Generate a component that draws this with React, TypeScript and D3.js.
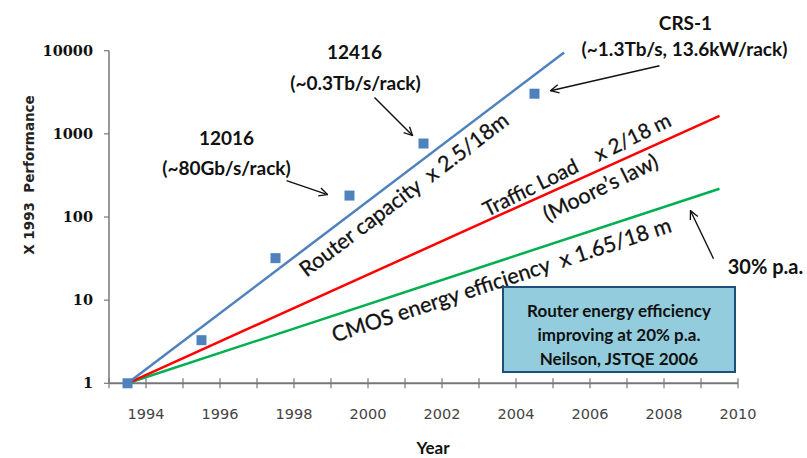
import * as d3 from "d3";

// measured points (relative to 1993) and the three trend lines
const pointYears = [1993.5, 1995.5, 1997.5, 1999.5, 2001.5, 2004.5];
const routerPoints = [1, 3.3, 32, 181, 765, 3040];

const routerTrend: [number, number][] = [[1993.5, 1], [2005.3, 9500]];
const trafficTrend: [number, number][] = [[1993.5, 1], [2009.5, 1650]];
const cmosTrend: [number, number][] = [[1993.5, 1], [2009.5, 219]];

const yTicks = [1, 10, 100, 1000, 10000];
const xTicks = d3.range(1993, 2011);
const xLabels = d3.range(1994, 2011, 2);

const W = 807,
  H = 458;

const FONT = "Lato, 'Open Sans', sans-serif";

export default function App() {
  const x = d3.scaleLinear().domain([1993, 2010]).range([109, 738]);
  const y = d3.scaleLog().domain([1, 10000]).range([383.3, 50.7]);

  const line = d3
    .line<[number, number]>()
    .x((d) => x(d[0]))
    .y((d) => y(d[1]));

  // place a label along a trend line: yr = year on the line, off = perpendicular px
  const along = (trend: [number, number][], yr: number, off: number, extra = 0) => {
    const [a, b] = trend;
    const x1 = x(a[0]), y1 = y(a[1]), x2 = x(b[0]), y2 = y(b[1]);
    const ang = Math.atan2(y2 - y1, x2 - x1);
    const f = (yr - a[0]) / (b[0] - a[0]);
    const px = x1 + f * (x2 - x1) - Math.sin(ang) * off;
    const py = y1 + f * (y2 - y1) + Math.cos(ang) * off;
    return `translate(${px},${py}) rotate(${(ang * 180) / Math.PI + extra})`;
  };

  const pt = (i: number) => [x(pointYears[i]), y(routerPoints[i])];
  const [p1x, p1y] = pt(3);
  const [p2x, p2y] = pt(4);
  const [p3x, p3y] = pt(5);
  const gx = x(cmosTrend[1][0]),
    gy = y(cmosTrend[1][1]);

  const arrow = (x1: number, y1: number, x2: number, y2: number) => (
    <line x1={x1} y1={y1} x2={x2} y2={y2} stroke="#111" strokeWidth={1.4} markerEnd="url(#open)" />
  );

  const bold = { fontFamily: FONT, fontWeight: 700, fontSize: 19, fill: "#111" } as const;
  const slant = { fontFamily: FONT, fontSize: 21.5, fill: "#111", stroke: "#111", strokeWidth: 0.3, style: { whiteSpace: "pre" as const } };

  return (
    <svg width={W} height={H} style={{ position: "absolute", left: 0, top: 0, background: "#fff" }}>
      <defs>
        <marker id="open" viewBox="0 0 12 12" refX={11} refY={6} markerWidth={10} markerHeight={10} markerUnits="userSpaceOnUse" orient="auto">
          <path d="M1,1 L11,6 L1,11" fill="none" stroke="#111" strokeWidth={1.6} />
        </marker>
      </defs>

      {/* axes */}
      <line x1={109} y1={y(10000)} x2={109} y2={y(1)} stroke="#777" strokeWidth={1.5} />
      {yTicks.map((t) => (
        <g key={t}>
          <line x1={104} x2={109} y1={y(t)} y2={y(t)} stroke="#777" strokeWidth={1.2} />
          <text x={93} y={y(t)} dy="0.35em" textAnchor="end" fontFamily="'DejaVu Serif', serif" fontWeight={700} fontSize={14.5} fill="#111">
            {t}
          </text>
        </g>
      ))}
      <line x1={109} y1={y(1)} x2={738} y2={y(1)} stroke="#777" strokeWidth={2} />
      {xTicks.map((t) => (
        <line key={t} x1={x(t)} x2={x(t)} y1={y(1) - 5} y2={y(1) + 5} stroke="#777" strokeWidth={1.2} />
      ))}
      {xLabels.map((t) => (
        <text key={t} x={x(t)} y={419} textAnchor="middle" fontFamily="'DejaVu Sans', sans-serif" fontSize={14.5} fill="#444">
          {t}
        </text>
      ))}
      <text x={433} y={454} textAnchor="middle" fontFamily={FONT} fontWeight={700} fontSize={17} fill="#111">
        Year
      </text>
      <text transform="translate(34,175) rotate(-90)" textAnchor="middle" fontFamily="'DejaVu Sans', sans-serif" fontWeight={700} fontSize={13.5} fill="#222" style={{ whiteSpace: "pre" }}>
        X 1993  Performance
      </text>

      {/* trend lines */}
      <path d={line(cmosTrend) ?? ""} fill="none" stroke="#00B050" strokeWidth={2.5} />
      <path d={line(trafficTrend) ?? ""} fill="none" stroke="#FF0000" strokeWidth={2.5} />
      <path d={line(routerTrend) ?? ""} fill="none" stroke="#4F81BD" strokeWidth={2.5} />

      {pointYears.map((yr, i) => (
        <rect key={yr} x={x(yr) - 5} y={y(routerPoints[i]) - 5} width={10} height={10} fill="#4F81BD" />
      ))}

      {/* line labels */}
      <text transform={along(routerTrend, 2000.7, 16)} textAnchor="middle" dominantBaseline="central" {...slant}>
        Router capacity  x 2.5/18m
      </text>
      <text transform={along(trafficTrend, 2005.8, -15, -2)} textAnchor="middle" dominantBaseline="central" {...slant} fontSize={20.5}>
        Traffic Load    x 2/18 m
      </text>
      <text transform={along(trafficTrend, 2006.1, 16, -2)} textAnchor="middle" dominantBaseline="central" {...slant}>
        (Moore’s law)
      </text>
      <text transform={along(cmosTrend, 2003.45, 18)} textAnchor="middle" dominantBaseline="central" {...slant}>
        CMOS energy efficiency  x 1.65/18 m
      </text>

      {/* annotations */}
      <text x={p1x - 123} y={p1y - 58} textAnchor="middle" dominantBaseline="central" {...bold}>12016</text>
      <text x={p1x - 123} y={p1y - 28} textAnchor="middle" dominantBaseline="central" {...bold}>(~80Gb/s/rack)</text>
      {arrow(p1x - 63, p1y - 15, p1x - 22, p1y - 1)}

      <text x={p2x - 69} y={p2y - 92} textAnchor="middle" dominantBaseline="central" {...bold}>12416</text>
      <text x={p2x - 68} y={p2y - 61} textAnchor="middle" dominantBaseline="central" {...bold}>(~0.3Tb/s/rack)</text>
      {arrow(p2x - 49, p2y - 46, p2x - 11, p2y - 8)}

      <text x={p3x + 151} y={p3y - 71} textAnchor="middle" dominantBaseline="central" {...bold}>CRS-1</text>
      <text x={p3x + 150} y={p3y - 45} textAnchor="middle" dominantBaseline="central" {...bold}>(~1.3Tb/s, 13.6kW/rack)</text>
      {arrow(p3x + 125, p3y - 28, p3x + 16, p3y - 3)}

      <text x={gx + 46} y={gy + 77} textAnchor="middle" dominantBaseline="central" {...bold} fontSize={20}>30% p.a.</text>
      {arrow(gx - 6, gy + 70, gx - 29, gy + 22)}

      {/* callout box */}
      <rect x={503} y={287} width={232} height={85} fill="#93CDDD" stroke="#1F4E79" strokeWidth={2} />
      {["Router energy efficiency", "improving at 20% p.a.", "Neilson, JSTQE 2006"].map((s, i) => (
        <text key={s} x={619} y={310 + i * 24} textAnchor="middle" dominantBaseline="central" fontFamily={FONT} fontWeight={700} fontSize={17} fill="#111">
          {s}
        </text>
      ))}
    </svg>
  );
}
